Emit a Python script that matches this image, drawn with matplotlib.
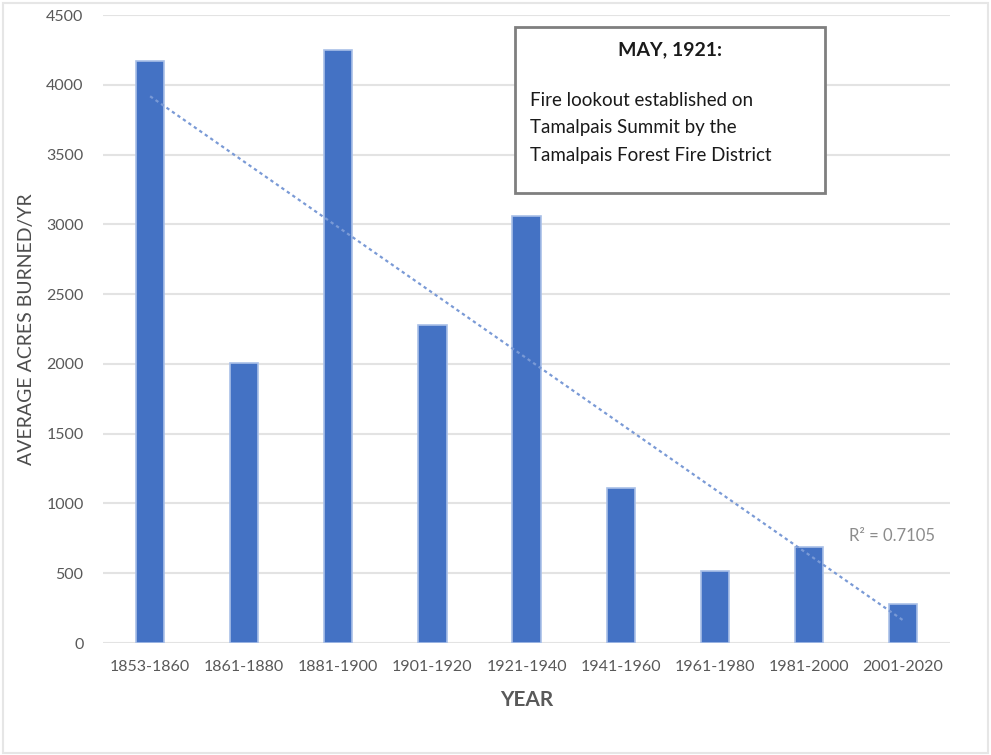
import matplotlib.pyplot as plt
import numpy as np
from matplotlib.patches import Rectangle

periods = ['1853-1860', '1861-1880', '1881-1900', '1901-1920', '1921-1940',
           '1941-1960', '1961-1980', '1981-2000', '2001-2020']
acres = [4170, 2010, 4250, 2280, 3060, 1110, 515, 690, 280]
r2_label = 'R\u00b2 = 0.7105'
note_title = 'MAY, 1921:'
note_lines = ['Fire lookout established on',
              'Tamalpais Summit by the',
              'Tamalpais Forest Fire District']

plt.rcParams['font.family'] = ['Lato', 'DejaVu Sans']
bar_color = '#4472C4'
text_gray = '#595959'

fig = plt.figure(figsize=(9.91, 7.55), dpi=100)
ax = fig.add_axes([0.104, 0.1483, 0.8547, 0.8318])

x = np.arange(1, len(acres) + 1)
ax.bar(x, acres, width=0.3, color=bar_color, edgecolor='#a9c0e8', linewidth=1.2, zorder=3)

# linear trendline, like excel
k, b = np.polyfit(x, acres, 1)
ax.plot(x, k * x + b, linestyle=(0, (1.5, 1.5)), color='#7a9ad6', linewidth=1.6, zorder=4)

ax.set_xlim(0.5, 9.5)
ax.set_ylim(0, 4500)
ax.set_yticks(np.arange(0, 4501, 500))
ax.set_xticks(x)
ax.set_xticklabels(periods)
ax.grid(axis='y', color='#e3e3e3', linewidth=1.5, zorder=0)
for s in ax.spines.values():
    s.set_visible(False)
ax.tick_params(length=0, labelsize=11.5, labelcolor=text_gray)
ax.tick_params(axis='y', pad=14)
ax.tick_params(axis='x', pad=12)

ax.set_xlabel('YEAR', fontsize=15, fontweight='bold', color=text_gray, labelpad=12)
ax.set_ylabel('AVERAGE ACRES BURNED/YR', fontsize=14, color='#4d4d4d', labelpad=8)

ax.text(8.43, 770, r2_label, fontsize=12, color='#8c8c8c', ha='left', va='center')

# note box
box = Rectangle((515 / 991, 1 - 193 / 755), 310 / 991, 166 / 755, transform=fig.transFigure,
                facecolor='white', edgecolor='#7f7f7f', linewidth=2, zorder=5)
fig.patches.append(box)
fig.text(670 / 991, 1 - 50 / 755, note_title, fontsize=14, fontweight='bold',
         color='#1a1a1a', ha='center', va='center', zorder=6)
for i, line in enumerate(note_lines):
    fig.text(530 / 991, 1 - (100 + 28 * i) / 755, line, fontsize=13.5,
             color='#1a1a1a', ha='left', va='center', zorder=6)

# outer chart frame
frame = Rectangle((0.003, 0.003), 0.994, 0.993, transform=fig.transFigure,
                  facecolor='none', edgecolor='#e6e6e6', linewidth=1.5)
fig.patches.append(frame)

fig.savefig('out.png', dpi=100)
